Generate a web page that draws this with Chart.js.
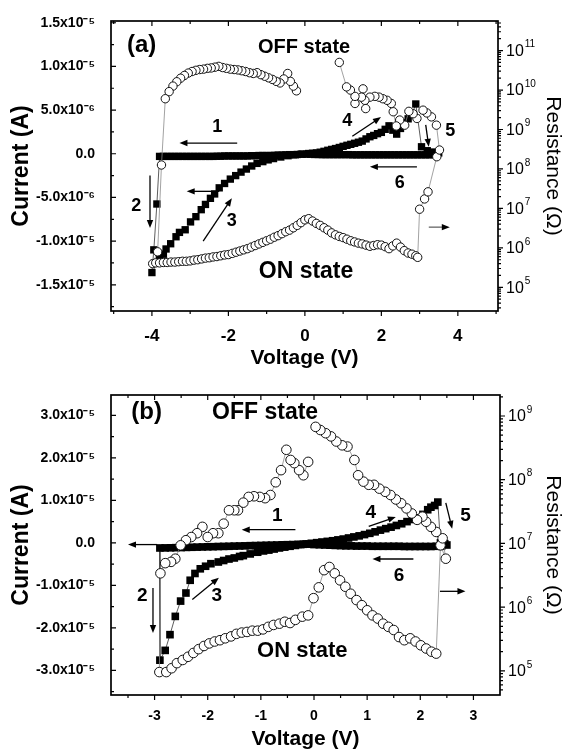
<!DOCTYPE html>
<html>
<head>
<meta charset="utf-8">
<script src="https://cdn.jsdelivr.net/npm/chart.js@4.4.1/dist/chart.umd.min.js"></script>
<style>
  html, body { margin: 0; padding: 0; background: #fff; }
  canvas { display: block; }
</style>
</head>
<body>
<canvas id="chartA" width="565" height="370"></canvas>
<canvas id="chartB" width="565" height="381"></canvas>
<script>
const FONT = "'Liberation Sans', Arial, Helvetica, sans-serif";

// ---- panel (a) : current sweep (V, uA), in measuring order ----
const aCurV = [
  -0.1, -0.2, -0.3, -0.4, -0.5, -0.6, -0.7, -0.8, -0.9, -1.0, -1.1, -1.2, -1.3, -1.4, -1.5, -1.6, -1.7, -1.8, -1.9, -2.0,
  -2.1, -2.2, -2.3, -2.4, -2.5, -2.6, -2.7, -2.8, -2.9, -3.0, -3.1, -3.2, -3.3, -3.4, -3.5, -3.6, -3.7, -3.8,
  -3.87, -3.95, -4.0,
  -3.8, -3.7, -3.63, -3.51, -3.37, -3.28, -3.13, -2.99, -2.85, -2.71, -2.6, -2.47, -2.36, -2.24, -2.1, -1.95, -1.81, -1.67, -1.53, -1.39, -1.25, -1.1, -0.96, -0.82, -0.63, -0.44, -0.25, -0.07,
  0.1, 0.2, 0.3, 0.4, 0.5, 0.6, 0.7, 0.8, 0.9, 1.0, 1.1, 1.2, 1.3, 1.4, 1.5, 1.6, 1.7, 1.8, 1.9, 2.0, 2.1, 2.2, 2.3, 2.4, 2.5, 2.6, 2.7, 2.8, 2.9,
  3.05, 3.2, 3.35, 3.5,
  3.45, 3.35, 3.25, 3.15, 3.05, 2.95, 2.85, 2.75, 2.65, 2.55, 2.45, 2.35, 2.25, 2.15, 2.05, 1.95, 1.85, 1.75,
  1.65, 1.55, 1.45, 1.35, 1.25, 1.15, 1.05, 0.95, 0.85, 0.75, 0.65, 0.55, 0.45, 0.35, 0.25, 0.15, 0.05
];
const aCurI = [
  -0.05, -0.08, -0.1, -0.1, -0.12, -0.15, -0.15, -0.18, -0.2, -0.2, -0.2, -0.2, -0.22, -0.22, -0.25, -0.25, -0.25, -0.25, -0.25, -0.25,
  -0.25, -0.28, -0.28, -0.3, -0.3, -0.3, -0.3, -0.3, -0.3, -0.3, -0.3, -0.3, -0.3, -0.3, -0.3, -0.3, -0.3, -0.3,
  -5.75, -11.0, -13.6,
  -12.0, -11.5, -10.9, -10.3, -9.5, -9.0, -8.7, -7.8, -7.2, -6.4, -5.8, -5.1, -4.6, -3.9, -3.4, -2.9, -2.5, -2.1, -1.75, -1.4, -1.1, -0.9, -0.7, -0.55, -0.37, -0.22, -0.11, -0.04,
  0.03, 0.06, 0.1, 0.18, 0.28, 0.4, 0.5, 0.6, 0.72, 0.85, 0.97, 1.08, 1.2, 1.32, 1.45, 1.7, 1.95, 2.1, 2.3, 2.45, 2.8, 3.2, 2.7, 2.25, 2.9, 3.55, 4.0, 4.5, 5.7,
  0.8, 0.35, 0.2, 0.1,
  -0.1, -0.1, -0.12, -0.12, -0.12, -0.12, -0.12, -0.12, -0.12, -0.12, -0.12, -0.12, -0.12, -0.12, -0.12, -0.12, -0.12, -0.12,
  -0.12, -0.12, -0.12, -0.12, -0.12, -0.1, -0.1, -0.1, -0.1, -0.1, -0.1, -0.1, -0.1, -0.08, -0.08, -0.05, -0.05
];
// ---- panel (a) : resistance (V, log10 ohm) ----
const aResV = [
  -0.22, -0.3, -0.38, -0.45, -0.55, -0.65, -0.75, -0.85, -0.95, -1.05, -1.15, -1.25, -1.35, -1.45, -1.55, -1.65, -1.75, -1.85, -1.95, -2.05, -2.15, -2.25, -2.35, -2.45, -2.55, -2.65, -2.75, -2.85, -2.95, -3.05, -3.15, -3.25, -3.35, -3.45, -3.55, -3.65,
  -3.75, -3.85, -3.98,
  -3.9, -3.8, -3.7, -3.6, -3.5, -3.4, -3.3, -3.2, -3.1, -3.0, -2.9, -2.8, -2.7, -2.6, -2.5, -2.4, -2.3, -2.2, -2.1, -2.0, -1.9, -1.8, -1.7, -1.6, -1.5, -1.4, -1.3, -1.2, -1.1, -1.0, -0.9, -0.8, -0.7, -0.6, -0.5, -0.4, -0.3, -0.2, -0.1, 0.0,
  0.1, 0.2, 0.3, 0.4, 0.5, 0.6, 0.7, 0.8, 0.9, 1.0, 1.1, 1.2, 1.3, 1.4, 1.5, 1.6, 1.7, 1.8, 1.9, 2.0, 2.1, 2.2, 2.3, 2.4, 2.5, 2.6, 2.7, 2.8, 2.9, 2.95,
  3.0, 3.13, 3.22, 3.45, 3.52, 3.44, 3.31, 3.19, 3.09, 2.93, 2.83, 2.72, 2.61, 2.48, 2.39, 2.31, 2.26, 2.15, 2.04, 1.94, 1.83, 1.7, 1.59, 1.57, 1.52, 1.48, 1.31, 1.31, 1.19, 1.09, 0.9
];
const aResLog = [
  9.98, 10.1, 10.22, 10.42, 10.28, 10.18, 10.22, 10.27, 10.31, 10.35, 10.39, 10.44, 10.42, 10.44, 10.47, 10.49, 10.51, 10.52, 10.53, 10.55, 10.57, 10.6, 10.58, 10.56, 10.55, 10.53, 10.52, 10.5, 10.47, 10.43, 10.37, 10.3, 10.21, 10.1, 9.96, 9.78,
  8.1, 5.9, 5.6,
  5.62, 5.62, 5.63, 5.63, 5.64, 5.64, 5.65, 5.66, 5.66, 5.67, 5.69, 5.7, 5.72, 5.74, 5.75, 5.77, 5.78, 5.8, 5.82, 5.83, 5.86, 5.89, 5.92, 5.95, 5.98, 6.02, 6.06, 6.1, 6.14, 6.18, 6.22, 6.27, 6.31, 6.36, 6.41, 6.45, 6.51, 6.57, 6.64, 6.71,
  6.74, 6.68, 6.62, 6.57, 6.51, 6.45, 6.38, 6.33, 6.29, 6.26, 6.22, 6.18, 6.15, 6.12, 6.1, 6.07, 6.04, 6.06, 6.08, 6.07, 6.03, 5.98, 6.05, 6.12, 6.02, 5.93, 5.87, 5.84, 5.8, 5.76,
  6.98, 7.24, 7.42, 8.31, 8.48, 9.11, 9.32, 9.42, 9.49, 9.28, 9.4, 9.46, 9.11, 9.24, 9.09, 9.45, 9.66, 9.74, 9.78, 9.82, 9.84, 9.82, 9.53, 9.74, 10.03, 9.82, 9.66, 9.84, 10.0, 10.08, 10.7
];
const aVoltTicks = [-5, -4, -3, -2, -1, 0, 1, 2, 3, 4, 5];
const aVoltText = ['', '-4', '', '-2', '', '0', '', '2', '', '4', ''];
const aCurTicks = [-1.75e-5, -1.5e-5, -1.25e-5, -1.0e-5, -7.5e-6, -5.0e-6, -2.5e-6, 0, 2.5e-6, 5.0e-6, 7.5e-6, 1.0e-5, 1.25e-5, 1.5e-5];
const aCurText = ['', '-1.5x10⁻⁵', '', '-1.0x10⁻⁵', '', '-5.0x10⁻⁶', '', '0.0', '', '5.0x10⁻⁶', '', '1.0x10⁻⁵', '', '1.5x10⁻⁵'];
const aResTicks = [5, 6, 7, 8, 9, 10, 11];

// ---- panel (b) : current sweep (V, uA) ----
const bCurV = [
  -0.1, -0.2, -0.3, -0.4, -0.5, -0.6, -0.7, -0.8, -0.9, -1.0, -1.1, -1.2, -1.3, -1.4, -1.5, -1.6, -1.7, -1.8, -1.9, -2.0,
  -2.1, -2.2, -2.3, -2.4, -2.5, -2.6, -2.7, -2.8, -2.9,
  -2.9, -2.8, -2.71, -2.61, -2.51, -2.41, -2.33, -2.24, -2.14, -2.04, -1.94, -1.8, -1.7, -1.6, -1.5, -1.4, -1.33, -1.2, -1.06, -0.95, -0.85, -0.75, -0.65, -0.55, -0.45, -0.35, -0.25, -0.15, -0.05,
  0.05, 0.15, 0.25, 0.35, 0.45, 0.55, 0.65, 0.75, 0.85, 0.95, 1.05, 1.15, 1.25, 1.35, 1.45, 1.55, 1.65, 1.75, 1.85, 1.95, 2.05, 2.14, 2.2, 2.27, 2.33,
  2.38, 2.46, 2.5,
  2.4, 2.3, 2.2, 2.1, 2.0, 1.9, 1.8, 1.7, 1.6, 1.5, 1.4, 1.3, 1.2, 1.1, 1.0, 0.9, 0.8, 0.7, 0.6, 0.5, 0.4, 0.3, 0.2, 0.1, 0.0
];
const bCurI = [
  -0.3, -0.33, -0.36, -0.4, -0.43, -0.46, -0.5, -0.53, -0.56, -0.6, -0.63, -0.66, -0.7, -0.73, -0.76, -0.8, -0.83, -0.86, -0.9, -0.93,
  -0.96, -1.0, -1.03, -1.06, -1.1, -1.13, -1.16, -1.18, -1.2,
  -27.6, -25.3, -21.6, -17.3, -13.7, -11.8, -8.8, -7.2, -6.1, -5.5, -4.9, -4.5, -4.15, -3.8, -3.55, -3.2, -3.0, -2.6, -2.2, -1.9, -1.7, -1.45, -1.2, -1.0, -0.8, -0.6, -0.4, -0.25, -0.1,
  0.05, 0.2, 0.35, 0.5, 0.7, 0.9, 1.15, 1.4, 1.65, 1.95, 2.25, 2.6, 3.0, 3.35, 3.7, 4.1, 4.5, 5.0, 5.5, 5.9, 6.7, 7.8, 8.4, 8.8, 9.6,
  0.0, -0.2, -0.5,
  -0.8, -0.8, -0.85, -0.85, -0.85, -0.85, -0.85, -0.85, -0.8, -0.8, -0.8, -0.8, -0.8, -0.8, -0.75, -0.75, -0.75, -0.7, -0.7, -0.65, -0.6, -0.55, -0.5, -0.45, -0.4
];
// ---- panel (b) : resistance (V, log10 ohm) ----
const bResV = [
  -0.11, -0.2, -0.28, -0.37, -0.44, -0.52, -0.62, -0.72, -0.82, -0.92, -1.02, -1.13, -1.23, -1.33, -1.43, -1.5, -1.6, -1.7, -1.8, -1.9, -2.0, -2.1, -2.2, -2.31, -2.41, -2.51, -2.61, -2.69, -2.8, -2.89,
  -2.91, -2.78, -2.68, -2.58, -2.47, -2.37, -2.27, -2.17, -2.07, -1.97, -1.87, -1.77, -1.67, -1.56, -1.46, -1.36, -1.26, -1.16, -1.06, -0.96, -0.86, -0.76, -0.65, -0.55, -0.45, -0.35, -0.22, -0.11, -0.01,
  0.09, 0.19, 0.29, 0.39, 0.49, 0.59, 0.69, 0.8, 0.9, 1.0, 1.1, 1.2, 1.3, 1.4, 1.5, 1.6, 1.7, 1.81, 1.91, 2.01, 2.11, 2.21, 2.3,
  2.38, 2.48, 2.42, 2.3, 2.2, 2.11, 2.04, 1.94, 1.84, 1.74, 1.64, 1.54, 1.44, 1.34, 1.23, 1.13, 1.03, 0.93, 0.83, 0.76, 0.63, 0.53, 0.42, 0.32, 0.22, 0.12, 0.03
];
const bResLog = [
  8.28, 8.07, 8.15, 8.26, 8.31, 8.47, 8.15, 7.96, 7.76, 7.71, 7.73, 7.74, 7.73, 7.64, 7.52, 7.52, 7.52, 7.31, 7.16, 7.16, 7.1, 7.26, 7.16, 7.1, 7.05, 6.97, 6.76, 6.71, 6.69, 6.53,
  4.98, 4.98, 5.04, 5.12, 5.17, 5.22, 5.28, 5.34, 5.39, 5.43, 5.46, 5.48, 5.51, 5.54, 5.58, 5.6, 5.61, 5.63, 5.63, 5.65, 5.69, 5.72, 5.74, 5.77, 5.75, 5.8, 5.85, 5.87, 6.14,
  6.31, 6.58, 6.63, 6.53, 6.42, 6.32, 6.21, 6.11, 6.03, 5.95, 5.87, 5.82, 5.74, 5.69, 5.64, 5.53, 5.48, 5.51, 5.46, 5.4, 5.35, 5.3, 5.27,
  6.97, 6.76, 7.08, 7.18, 7.26, 7.34, 7.42, 7.37, 7.47, 7.55, 7.63, 7.69, 7.76, 7.81, 7.86, 7.92, 7.92, 7.97, 8.07, 8.31, 8.52, 8.54, 8.6, 8.68, 8.73, 8.78, 8.83
];
const bVoltTicks = [-3.5, -3, -2.5, -2, -1.5, -1, -0.5, 0, 0.5, 1, 1.5, 2, 2.5, 3];
const bVoltText = ['', '-3', '', '-2', '', '-1', '', '0', '', '1', '', '2', '', '3'];
const bCurTicks = [-3.5e-5, -3.0e-5, -2.5e-5, -2.0e-5, -1.5e-5, -1.0e-5, -5.0e-6, 0, 5.0e-6, 1.0e-5, 1.5e-5, 2.0e-5, 2.5e-5, 3.0e-5];
const bCurText = ['', '-3.0x10⁻⁵', '', '-2.0x10⁻⁵', '', '-1.0x10⁻⁵', '', '0.0', '', '1.0x10⁻⁵', '', '2.0x10⁻⁵', '', '3.0x10⁻⁵'];
const bResTicks = [5, 6, 7, 8, 9];

function points(xs, ys, f) {
  return xs.map((x, k) => ({ x: x, y: f(ys[k]) }));
}

function drawArrow(ctx, x1, y1, x2, y2, color) {
  const ang = Math.atan2(y2 - y1, x2 - x1);
  const head = 8, half = 3.2;
  ctx.strokeStyle = color;
  ctx.fillStyle = '#000';
  ctx.lineWidth = 1.3;
  ctx.beginPath();
  ctx.moveTo(x1, y1);
  ctx.lineTo(x2 - head * 0.7 * Math.cos(ang), y2 - head * 0.7 * Math.sin(ang));
  ctx.stroke();
  ctx.beginPath();
  ctx.moveTo(x2, y2);
  ctx.lineTo(x2 - head * Math.cos(ang) + half * Math.sin(ang), y2 - head * Math.sin(ang) - half * Math.cos(ang));
  ctx.lineTo(x2 - head * Math.cos(ang) - half * Math.sin(ang), y2 - head * Math.sin(ang) + half * Math.cos(ang));
  ctx.closePath();
  ctx.fill();
}

// box round the plot + tick marks (left ticks point inward like the original)
// also writes the 10^n labels of the log axis with a real raised exponent
const framePlugin = {
  id: 'frame',
  afterDatasetsDraw(chart) {
    const { ctx, chartArea: a, scales } = chart;
    ctx.save();
    ctx.strokeStyle = '#000';
    ctx.lineWidth = 1.7;
    ctx.strokeRect(a.left, a.top, a.right - a.left, a.bottom - a.top);
    ctx.lineWidth = 1.2;
    ctx.beginPath();
    scales.x.ticks.forEach(t => {
      const px = scales.x.getPixelForValue(t.value);
      const len = t.label ? 5 : 3;
      ctx.moveTo(px, a.bottom); ctx.lineTo(px, a.bottom + len);
      ctx.moveTo(px, a.top); ctx.lineTo(px, a.top + len);
    });
    scales.y.ticks.forEach(t => {
      const py = scales.y.getPixelForValue(t.value);
      const len = t.label ? 5 : 3;
      ctx.moveTo(a.left, py); ctx.lineTo(a.left + len, py);
    });
    scales.y1.ticks.forEach(t => {
      const py = scales.y1.getPixelForValue(t.value);
      const len = t.major ? 5 : 3;
      ctx.moveTo(a.right, py); ctx.lineTo(a.right + len, py);
    });
    ctx.stroke();

    const exps = chart.$resTicks || [];
    ctx.fillStyle = '#000';
    ctx.textAlign = 'left';
    ctx.textBaseline = 'middle';
    exps.forEach(e => {
      const py = scales.y1.getPixelForValue(Math.pow(10, e));
      const x0 = a.right + 8;
      ctx.font = '16px ' + FONT;
      ctx.fillText('10', x0, py + 1);
      const w = ctx.measureText('10').width;
      ctx.font = '10px ' + FONT;
      ctx.fillText(String(e), x0 + w + 1, py - 6);
    });
    ctx.restore();
  }
};

// labels and arrows, positioned in data units (V, uA)
function notesPlugin(notes, arrows) {
  return {
    id: 'notes',
    afterDatasetsDraw(chart) {
      const { ctx, scales } = chart;
      const px = v => scales.x.getPixelForValue(v);
      const py = i => scales.y.getPixelForValue(i * 1e-6);
      ctx.save();
      arrows.forEach(a => drawArrow(ctx, px(a[0]), py(a[1]), px(a[2]), py(a[3]), a[4] || '#000'));
      ctx.fillStyle = '#000';
      ctx.textAlign = 'center';
      ctx.textBaseline = 'middle';
      notes.forEach(n => {
        ctx.font = 'bold ' + n[3] + 'px ' + FONT;
        ctx.fillText(n[0], px(n[1]), py(n[2]));
      });
      ctx.restore();
    }
  };
}

function makePanel(id, p) {
  const ctx = document.getElementById(id).getContext('2d');
  const chart = new Chart(ctx, {
    type: 'scatter',
    data: {
      datasets: [{
        label: 'Resistance',
        yAxisID: 'y1',
        data: points(p.resV, p.resLog, v => Math.pow(10, v)),
        showLine: true,
        borderColor: '#8a8a8a',
        borderWidth: 0.8,
        pointStyle: 'circle',
        pointRadius: p.circle,
        pointBackgroundColor: '#fff',
        pointBorderColor: '#111',
        pointBorderWidth: 1
      }, {
        label: 'Current',
        yAxisID: 'y',
        data: points(p.curV, p.curI, v => v * 1e-6),
        showLine: true,
        borderColor: '#333',
        borderWidth: 0.8,
        pointStyle: 'rect',
        pointRadius: p.square,
        pointBackgroundColor: '#000',
        pointBorderColor: '#000',
        pointBorderWidth: 0
      }]
    },
    options: {
      responsive: false,
      animation: false,
      layout: { padding: { top: p.padTop, left: 0, right: 0, bottom: 0 } },
      plugins: { legend: { display: false }, tooltip: { enabled: false } },
      scales: {
        x: {
          type: 'linear',
          position: 'bottom',
          min: p.xMin,
          max: p.xMax,
          bounds: 'data',
          afterBuildTicks: s => { s.ticks = p.xTicks.map(v => ({ value: v })); },
          afterFit: s => { s.height = p.xHeight; },
          ticks: {
            autoSkip: false, maxRotation: 0, padding: p.xPad, color: '#000',
            font: { family: FONT, size: p.xTickSize, weight: 'bold' },
            callback: (v, i) => p.xText[i]
          },
          grid: { display: false },
          border: { display: false },
          title: {
            display: true, text: 'Voltage (V)', color: '#000', padding: 0,
            font: { family: FONT, size: 21, weight: 'bold', lineHeight: 1.1 }
          }
        },
        y: {
          type: 'linear',
          position: 'left',
          min: p.yMin,
          max: p.yMax,
          bounds: 'data',
          afterBuildTicks: s => { s.ticks = p.yTicks.map(v => ({ value: v })); },
          afterFit: s => { s.width = 111; },
          ticks: {
            autoSkip: false, padding: 8, color: '#000',
            font: { family: FONT, size: 14, weight: 'bold' },
            callback: (v, i) => p.yText[i]
          },
          grid: { display: false },
          border: { display: false },
          title: {
            display: true, text: 'Current (A)', color: '#000', padding: 8,
            font: { family: FONT, size: 23, weight: 'bold', lineHeight: 1.2 }
          }
        },
        y1: {
          type: 'logarithmic',
          position: 'right',
          min: Math.pow(10, p.rMin),
          max: Math.pow(10, p.rMax),
          bounds: 'data',
          afterBuildTicks: s => {
            const list = [];
            for (let e = Math.floor(p.rMin); e <= Math.ceil(p.rMax); e++) {
              for (let k = 1; k <= 9; k++) {
                const v = k * Math.pow(10, e);
                if (v >= s.min && v <= s.max) list.push({ value: v, major: k === 1 });
              }
            }
            s.ticks = list;
          },
          afterFit: s => { s.width = p.rightWidth; },
          ticks: { autoSkip: false, padding: 7, font: { family: FONT, size: 16 }, callback: () => '' },
          grid: { display: false },
          border: { display: false },
          title: {
            display: true, text: 'Resistance (Ω)', color: '#000', padding: 0,
            font: { family: FONT, size: 21, lineHeight: 1.2 }
          }
        }
      }
    },
    plugins: [framePlugin, notesPlugin(p.notes, p.arrows)]
  });
  chart.$resTicks = p.rTicks;
  chart.draw();
  return chart;
}

makePanel('chartA', {
  curV: aCurV, curI: aCurI, resV: aResV, resLog: aResLog,
  xTicks: aVoltTicks, xText: aVoltText, yTicks: aCurTicks, yText: aCurText, rTicks: aResTicks,
  xMin: -5.07, xMax: 5.05, yMin: -1.8e-5, yMax: 1.52e-5, rMin: 4.4, rMax: 11.75,
  padTop: 21, rightWidth: 67, xHeight: 59, xTickSize: 17, xPad: 7, square: 5.2, circle: 4.2,
  notes: [
    ['(a)', -4.27, 12.4, 24], ['OFF state', -0.02, 12.2, 20], ['ON state', 0.03, -13.5, 23],
    ['1', -2.29, 3.1, 18], ['2', -4.41, -6.0, 18], ['3', -1.91, -7.7, 18],
    ['4', 1.11, 3.8, 18], ['5', 3.8, 2.6, 18], ['6', 2.48, -3.4, 18]
  ],
  arrows: [
    [-1.77, 1.23, -3.28, 1.23], [-4.05, -2.5, -4.05, -8.5], [-2.66, -10.0, -1.91, -5.1],
    [-2.24, -4.3, -3.09, -4.3], [1.24, 2.0, 1.99, 4.2], [3.16, 3.3, 3.24, 0.8],
    [2.93, -1.5, 1.7, -1.5], [3.24, -8.4, 3.79, -8.4, '#666']
  ]
});

makePanel('chartB', {
  curV: bCurV, curI: bCurI, resV: bResV, resLog: bResLog,
  xTicks: bVoltTicks, xText: bVoltText, yTicks: bCurTicks, yText: bCurText, rTicks: bResTicks,
  xMin: -3.82, xMax: 3.5, yMin: -3.58e-5, yMax: 3.48e-5, rMin: 4.62, rMax: 9.33,
  padTop: 25, rightWidth: 65, xHeight: 56, xTickSize: 14, xPad: 5, square: 5.4, circle: 4.8,
  notes: [
    ['(b)', -3.15, 30.6, 24], ['OFF state', -0.92, 30.6, 23], ['ON state', -0.22, -25.5, 22],
    ['1', -0.69, 6.3, 19], ['2', -3.23, -12.5, 19], ['3', -1.83, -12.5, 19],
    ['4', 1.07, 7.1, 19], ['5', 2.85, 6.3, 19], ['6', 1.6, -7.8, 19]
  ],
  arrows: [
    [-0.35, 3.1, -1.36, 3.1], [-3.03, -10.6, -3.03, -21.2], [-2.29, -13.3, -1.79, -8.2],
    [-2.95, -0.4, -3.5, -0.4], [1.03, 3.9, 1.54, 6.1], [2.48, 9.4, 2.6, 3.3],
    [1.87, -3.8, 1.1, -3.8], [2.37, -11.4, 2.85, -11.4]
  ]
});
</script>
</body>
</html>
